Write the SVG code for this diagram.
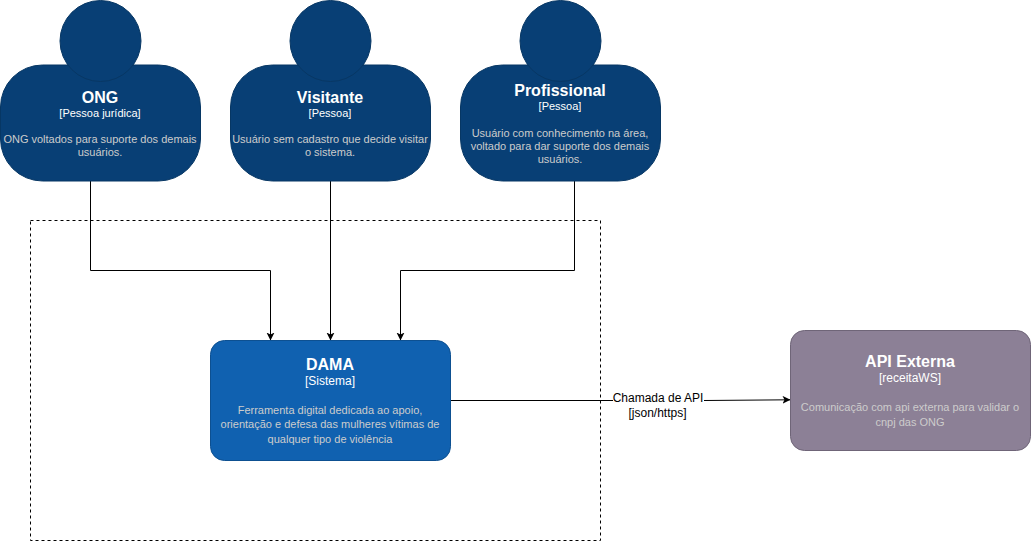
<svg xmlns="http://www.w3.org/2000/svg" width="1031" height="542" viewBox="0 0 1031 542">
<style>
text{font-family:"Liberation Sans",Arial,sans-serif;text-anchor:middle}
.person{fill:#083f75;stroke:#073764}
.t{font-size:16px;font-weight:bold;fill:#fff}
.s{font-size:12px;fill:#fff}
.s2{font-size:11px;fill:#fff}
.d{font-size:11px;fill:#ccc}
.c{fill:none;stroke:#000;stroke-width:1}
.l{font-size:12px;fill:#000}
</style>
<defs><marker id="a" markerUnits="userSpaceOnUse" markerWidth="10" markerHeight="10" refX="7.5" refY="4" orient="auto"><path d="M0 0L8 4L0 8L2 4Z" fill="#000"/></marker></defs>
<rect width="1031" height="542" fill="#fff"/>
<rect id="boundary" x="30.500" y="220.500" width="570" height="320" fill="none" stroke="#000" stroke-dasharray="3 3"/>
<g id="connectors">
<path class="c" marker-end="url(#a)" d="M90.500 181V270.500H270.500V340"/>
<path class="c" marker-end="url(#a)" d="M330.500 181V340"/>
<path class="c" marker-end="url(#a)" d="M574.500 181V270.500H400.500V340"/>
<path class="c" marker-end="url(#a)" d="M451 400.500H613M704 400.500L790 399.800"/>
</g>
<g id="edge-label"><text class="l" x="658" y="402">Chamada de API</text><text class="l" x="657.500" y="417">[json/https]</text></g>
<g id="ong"><rect class="person" x="0.500" y="65" width="200" height="116" rx="42"/><circle class="person" cx="100.500" cy="41" r="40.500"/>
<text class="t" x="100" y="103">ONG</text><text class="s2" x="100" y="117">[Pessoa jurídica]</text><text class="d" x="100" y="143">ONG voltados para suporte dos demais</text><text class="d" x="100" y="156">usuários.</text></g>
<g id="visitante"><rect class="person" x="230.500" y="65" width="200" height="116" rx="42"/><circle class="person" cx="330.500" cy="41" r="40.500"/>
<text class="t" x="330" y="103">Visitante</text><text class="s2" x="330" y="117">[Pessoa]</text><text class="d" x="330" y="143">Usuário sem cadastro que decide visitar</text><text class="d" x="330" y="156">o sistema.</text></g>
<g id="profissional"><rect class="person" x="460.500" y="65" width="200" height="116" rx="42"/><circle class="person" cx="560.500" cy="41" r="40.500"/>
<text class="t" x="560" y="96">Profissional</text><text class="s2" x="560" y="110">[Pessoa]</text><text class="d" x="560" y="137">Usuário com conhecimento na área,</text><text class="d" x="560" y="150">voltado para dar suporte dos demais</text><text class="d" x="560" y="163">usuários.</text></g>
<g id="dama"><rect x="210.500" y="340.500" width="240" height="120" rx="14" fill="#1061b0" stroke="#0d5091"/>
<text class="t" x="330" y="370">DAMA</text><text class="s" x="330" y="385">[Sistema]</text><text class="d" x="330" y="414">Ferramenta digital dedicada ao apoio,</text><text class="d" x="330" y="428">orientação e defesa das mulheres vítimas de</text><text class="d" x="330" y="443">qualquer tipo de violência</text></g>
<g id="api"><rect x="790.500" y="330.500" width="240" height="120" rx="14" fill="#8c8096" stroke="#6f6578"/>
<text class="t" x="910" y="367">API Externa</text><text class="s" x="910" y="382">[receitaWS]</text><text class="d" x="910" y="411">Comunicação com api externa para validar o</text><text class="d" x="910" y="426">cnpj das ONG</text></g>
</svg>
